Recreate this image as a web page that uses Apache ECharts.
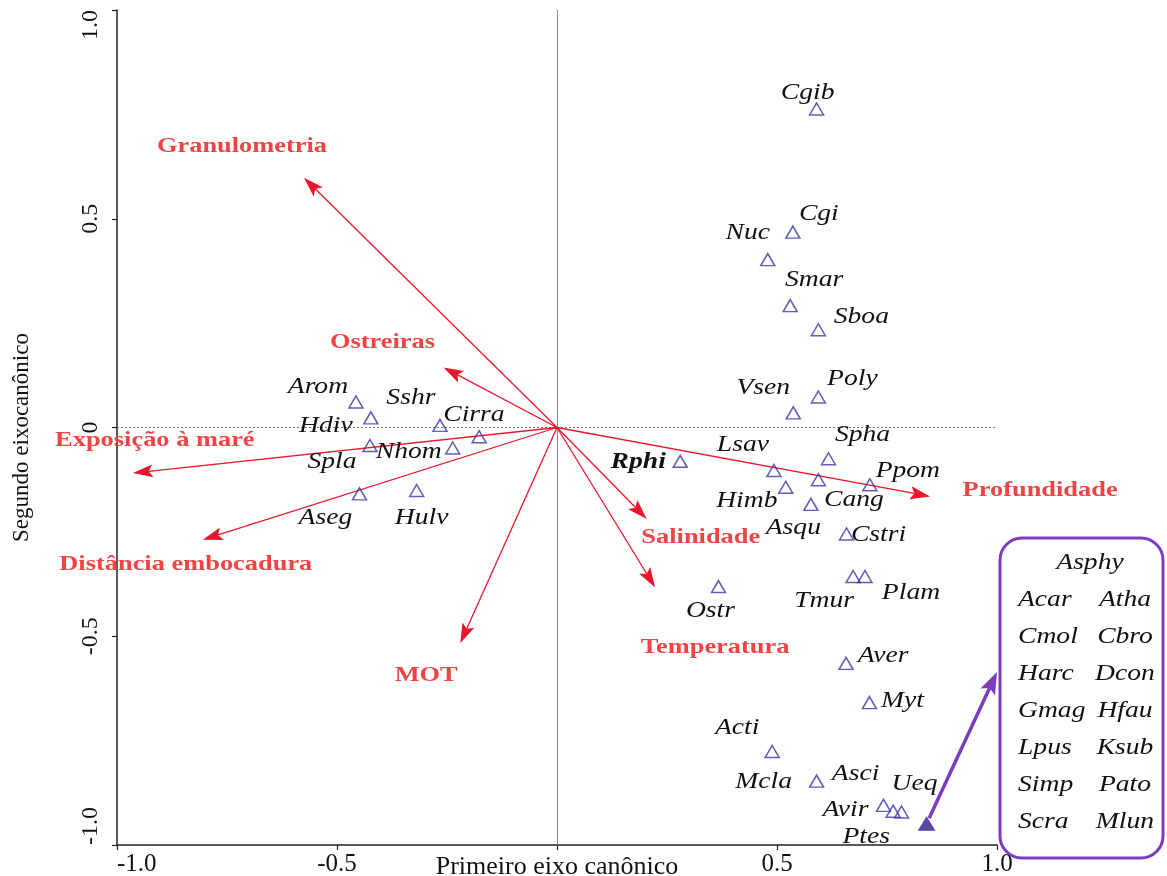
<!DOCTYPE html>
<html>
<head>
<meta charset="utf-8">
<script src="https://cdn.jsdelivr.net/npm/echarts@6/dist/echarts.min.js"></script>
<style>
  html, body { margin: 0; padding: 0; background: #ffffff; }
  #chart { width: 1167px; height: 876px; }
</style>
</head>
<body>
<div id="chart"></div>
<script>
// Species scores on the first two canonical axes (empty name = unlabelled point)
const speciesNames = ['Cgib', 'Cgi', 'Nuc', 'Smar', 'Sboa', 'Poly', 'Vsen', 'Spha', 'Rphi', 'Lsav',
  'Himb', 'Asqu', 'Cang', 'Ppom', 'Cstri', 'Tmur', 'Plam', 'Ostr', 'Aver', 'Myt',
  'Acti', 'Asci', 'Avir', 'Ptes', 'Ueq', 'Arom', 'Sshr', 'Cirra',
  '', 'Spla', 'Nhom', 'Aseg', 'Hulv'];
const speciesX = [0.590, 0.536, 0.479, 0.530, 0.594, 0.594, 0.537, 0.617, 0.280, 0.493,
  0.520, 0.594, 0.577, 0.711, 0.658, 0.673, 0.700, 0.367, 0.657, 0.710,
  0.489, 0.590, 0.742, 0.764, 0.783, -0.457, -0.423, -0.266,
  -0.177, -0.425, -0.237, -0.449, -0.319];
const speciesY = [0.763, 0.468, 0.402, 0.292, 0.234, 0.073, 0.035, -0.075, -0.081, -0.103,
  -0.143, -0.125, -0.184, -0.137, -0.255, -0.357, -0.357, -0.381, -0.565, -0.659,
  -0.776, -0.847, -0.905, -0.919, -0.921, 0.061, 0.023, 0.005,
  -0.022, -0.043, -0.049, -0.159, -0.151];
// Species plotted at the same position as another one
const sharedPosition = { Asci: 'Mcla', Sshr: 'Hdiv' };

// Environmental variables (biplot arrows)
const envNames = ['Granulometria', 'Ostreiras', 'Exposição à maré', 'Distância embocadura',
  'MOT', 'Profundidade', 'Salinidade', 'Temperatura'];
const envX = [-0.575, -0.258, -0.964, -0.805, -0.220, 0.848, 0.204, 0.223];
const envY = [0.598, 0.144, -0.109, -0.269, -0.517, -0.165, -0.219, -0.383];

// Species sharing one position, listed in the side box
const groupX = [0.840];
const groupY = [-0.949];
const groupSpecies = ['Asphy', 'Acar', 'Atha', 'Cmol', 'Cbro', 'Harc', 'Dcon', 'Gmag', 'Hfau',
  'Lpus', 'Ksub', 'Simp', 'Pato', 'Scra', 'Mlun'];

// Axis ticks
const tickValues = [-1, -0.5, 0, 0.5, 1];
const xTickLabels = ['-1.0', '-0.5', '', '0.5', '1.0'];
const yTickLabels = ['-1.0', '-0.5', '0', '0.5', '1.0'];

// ---- layout: pixel offsets of labels from their marks ----
const speciesLabelOffset = {
  Cgib: [-9, -16], Cgi: [26, -18], Nuc: [-20, -27], Smar: [24, -26], Sboa: [43, -13],
  Poly: [34, -18], Vsen: [-30, -25], Spha: [34, -24], Rphi: [-42, 1], Lsav: [-31, -26],
  Himb: [-39, 14], Asqu: [-25, 48], Cang: [43, -4], Ppom: [38, -14], Cstri: [32, 1],
  Tmur: [-29, 24], Plam: [46, 16], Ostr: [-8, 24], Aver: [37, -7], Myt: [33, -2],
  Acti: [-35, -24], Asci: [39, -7], Mcla: [-53, 1], Avir: [-38, 5], Ptes: [-27, 26],
  Ueq: [13, -28], Arom: [-38, -15], Sshr: [40, -20], Hdiv: [-45, 8], Cirra: [34, -10],
  Spla: [-38, 17], Nhom: [-44, 4], Aseg: [-34, 24], Hulv: [5, 27]
};
const envLabelOffset = [[-62, -32], [-61, -25], [22, -33], [-17, 25], [-34, 32], [110, -6], [54, 18], [60, 60]];
const boldSpecies = { Rphi: true };

const SERIF = '"Liberation Serif", "Times New Roman", serif';
const STRETCH = 1.2;
const RED = '#e8182c';
const RED_TEXT = '#f04444';
const BLUE = '#3836a8';
const PURPLE = '#7d3cbd';

const tickIndex = v => Math.round(v * 2) + 2;

function arrowShape(p0, p1, len, half) {
  const dx = p1[0] - p0[0], dy = p1[1] - p0[1];
  const d = Math.sqrt(dx * dx + dy * dy) || 1;
  const ux = dx / d, uy = dy / d, nx = -uy, ny = ux;
  const bx = p1[0] - ux * len, by = p1[1] - uy * len;
  const mx = p1[0] - ux * len * 0.8, my = p1[1] - uy * len * 0.8;
  return {
    end: [mx, my],
    head: [[p1[0], p1[1]], [bx + nx * half, by + ny * half], [mx, my], [bx - nx * half, by - ny * half]]
  };
}

function speciesText(name, x, y) {
  return {
    type: 'text', x: x, y: y, scaleX: STRETCH,
    style: {
      text: name, fontFamily: SERIF, fontStyle: 'italic',
      fontWeight: boldSpecies[name] ? 'bold' : 'normal',
      fontSize: 23, fill: '#111111', align: 'center', verticalAlign: 'middle'
    }
  };
}

const chart = echarts.init(document.getElementById('chart'), null, { renderer: 'canvas' });

const speciesData = speciesNames.map((n, i) => [speciesX[i], speciesY[i]]);
const envData = envNames.map((n, i) => [envX[i], envY[i]]);

// Side box listing the grouped species
const boxLeft = 1000, boxTop = 538, boxW = 163, boxH = 320;
const boxGraphics = [{
  type: 'rect',
  shape: { x: boxLeft, y: boxTop, width: boxW, height: boxH, r: 22 },
  style: { fill: 'none', stroke: PURPLE, lineWidth: 3 },
  z: 10
}];
groupSpecies.forEach((name, i) => {
  let x, y, align;
  if (i === 0) { x = 1090; y = 563; align = 'center'; }
  else {
    const row = Math.floor((i - 1) / 2), col = (i - 1) % 2;
    y = 600 + row * 37;
    if (col === 0) { x = 1018; align = 'left'; } else { x = 1125; align = 'center'; }
  }
  boxGraphics.push({
    type: 'text', x: x, y: y, scaleX: STRETCH, z: 11,
    style: {
      text: name, fontFamily: SERIF, fontStyle: 'italic', fontSize: 23,
      fill: '#111111', align: align, verticalAlign: 'middle'
    }
  });
});

const option = {
  animation: false,
  backgroundColor: '#ffffff',
  grid: { left: 117, right: 170, top: 10, bottom: 31, containLabel: false, outerBoundsMode: 'none' },
  xAxis: {
    type: 'value', min: -1, max: 1, interval: 0.5,
    name: 'Primeiro eixo canônico', nameLocation: 'middle', nameGap: 9, nameMoveOverlap: false,
    nameTextStyle: { fontFamily: SERIF, fontSize: 26, color: '#111111', verticalAlign: 'top' },
    axisLine: { show: true, onZero: false, lineStyle: { color: '#222222', width: 1.5 } },
    axisTick: { show: true, length: 5, lineStyle: { color: '#222222', width: 1.2 } },
    splitLine: { show: false },
    axisLabel: {
      fontFamily: SERIF, fontSize: 25, color: '#111111', margin: 7,
      alignMinLabel: 'left',
      formatter: v => xTickLabels[tickIndex(v)]
    }
  },
  yAxis: {
    type: 'value', min: -1, max: 1, interval: 0.5,
    name: 'Segundo eixocanônico', nameLocation: 'middle', nameGap: 84, nameMoveOverlap: false,
    nameTextStyle: { fontFamily: SERIF, fontSize: 23, color: '#111111', padding: [0, 20, 0, 0] },
    axisLine: { show: true, onZero: false, lineStyle: { color: '#222222', width: 1.5 } },
    axisTick: { show: true, length: 5, lineStyle: { color: '#222222', width: 1.2 } },
    splitLine: { show: false },
    axisLabel: {
      fontFamily: SERIF, fontSize: 24, color: '#111111', margin: 14, rotate: 90,
      alignMinLabel: 'left', alignMaxLabel: 'right',
      formatter: v => yTickLabels[tickIndex(v)]
    }
  },
  graphic: boxGraphics,
  series: [
    {
      // species marks + origin reference lines
      name: 'Espécies', type: 'scatter', data: speciesData,
      symbol: 'triangle', symbolSize: [14, 12], z: 5,
      itemStyle: { color: 'rgba(255,255,255,0)', borderColor: BLUE, borderWidth: 1.5 },
      markLine: {
        silent: true, symbol: 'none', label: { show: false }, z: 1,
        data: [
          { xAxis: 0, lineStyle: { color: '#8a8a8a', width: 1, type: 'solid' } },
          { yAxis: 0, lineStyle: { color: '#777777', width: 1, type: [2, 2] } }
        ]
      }
    },
    {
      // environmental arrows from the origin
      name: 'Variáveis', type: 'custom', data: envData, z: 4,
      renderItem: (params, api) => {
        const p0 = api.coord([0, 0]);
        const p1 = api.coord([api.value(0), api.value(1)]);
        const a = arrowShape(p0, p1, 20, 6.5);
        return {
          type: 'group',
          children: [
            { type: 'line', shape: { x1: p0[0], y1: p0[1], x2: a.end[0], y2: a.end[1] },
              style: { stroke: RED, lineWidth: 1.3 } },
            { type: 'polygon', shape: { points: a.head }, style: { fill: RED } }
          ]
        };
      }
    },
    {
      // environmental variable names
      name: 'Nomes das variáveis', type: 'custom', data: envData, z: 6,
      renderItem: (params, api) => {
        const p = api.coord([api.value(0), api.value(1)]);
        const off = envLabelOffset[params.dataIndex];
        return {
          type: 'text', x: p[0] + off[0], y: p[1] + off[1], scaleX: STRETCH,
          style: {
            text: envNames[params.dataIndex], fontFamily: SERIF, fontWeight: 'bold',
            fontSize: 22, fill: RED_TEXT, align: 'center', verticalAlign: 'middle'
          }
        };
      }
    },
    {
      // species names (plus any species sharing the same position)
      name: 'Nomes das espécies', type: 'custom', data: speciesData, z: 7,
      renderItem: (params, api) => {
        const name = speciesNames[params.dataIndex];
        if (!name) return null;
        const p = api.coord([api.value(0), api.value(1)]);
        const names = [name].concat(sharedPosition[name] ? [sharedPosition[name]] : []);
        return {
          type: 'group',
          children: names.map(n => {
            const off = speciesLabelOffset[n] || [0, -18];
            return speciesText(n, p[0] + off[0], p[1] + off[1]);
          })
        };
      }
    },
    {
      // grouped species position
      name: 'Grupo', type: 'scatter', data: groupX.map((x, i) => [x, groupY[i]]),
      symbol: 'triangle', symbolSize: [16, 13], z: 8,
      itemStyle: { color: '#2c1f8e', borderColor: '#4a2aa0', borderWidth: 1 }
    },
    {
      // pointer from the grouped position to the side box
      name: 'Ligação', type: 'custom', data: groupX.map((x, i) => [x, groupY[i]]), z: 9,
      renderItem: (params, api) => {
        const p0 = api.coord([api.value(0), api.value(1)]);
        const p1 = [boxLeft - 3, boxTop + 134];
        const dx = p1[0] - p0[0], dy = p1[1] - p0[1];
        const d = Math.sqrt(dx * dx + dy * dy);
        const s = [p0[0] + dx / d * 6, p0[1] + dy / d * 6];
        const a = arrowShape(s, p1, 22, 8);
        return {
          type: 'group',
          children: [
            { type: 'line', shape: { x1: s[0], y1: s[1], x2: a.end[0], y2: a.end[1] },
              style: { stroke: PURPLE, lineWidth: 3.5 } },
            { type: 'polygon', shape: { points: a.head }, style: { fill: PURPLE } }
          ]
        };
      }
    }
  ]
};

chart.setOption(option);
</script>
</body>
</html>
